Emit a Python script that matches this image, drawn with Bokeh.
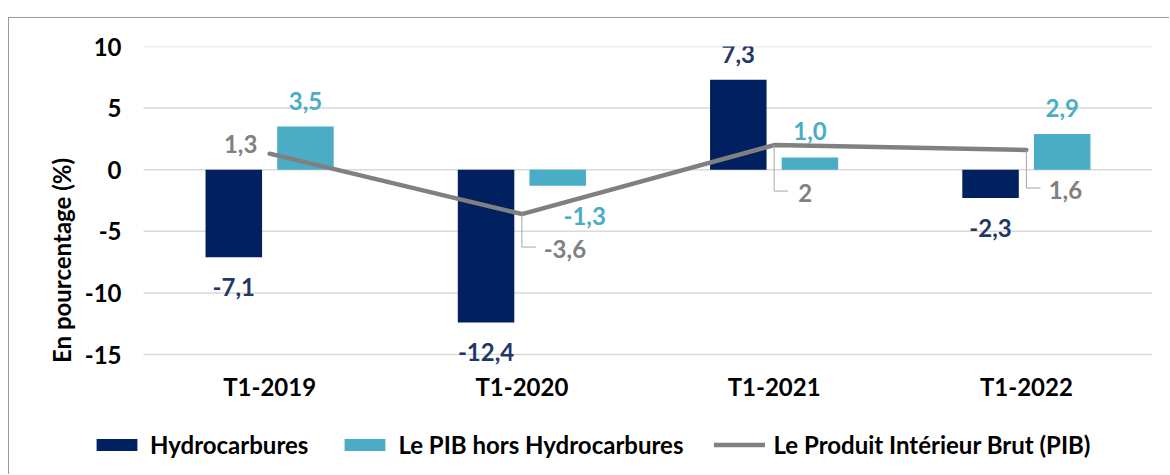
from bokeh.plotting import figure
from bokeh.models import FixedTicker, Legend, LegendItem, ColumnDataSource
from bokeh.transform import dodge
from bokeh.embed import file_html
from bokeh.resources import INLINE
from bokeh.core.properties import value

# ---------------- data ----------------
categories = ["T1-2019", "T1-2020", "T1-2021", "T1-2022"]
hydrocarbures = [-7.1, -12.4, 7.3, -2.3]
pib_hors_hydro = [3.5, -1.3, 1.0, 2.9]
pib = [1.3, -3.6, 2.0, 1.6]
y_ticks = [-15, -10, -5, 0, 5, 10]

# ---------------- style / layout ----------------
FONT = "Lato"
NAVY = "#002060"
NAVY_TXT = "#1f3868"
LIGHT = "#4bacc6"
GREY = "#808080"
GRID = "#d9d9d9"
FS = "24px"

PX_Y = 12.32                       # pixels per unit on y
PX_X = 1009 / len(categories)      # pixels per category
EXTRA_L = 53                       # frame extends left of the category area (legend room)
FW = 1009 + EXTRA_L
FH = 428
Y1 = 10
Y0 = Y1 - FH / PX_Y
X0 = -0.5 - EXTRA_L / PX_X
X1 = len(categories) - 0.5
OFF = 0.142
BW = 0.224

# label nudges (screen px)
hyd_dx = [0, 0, 0, 0]
hyd_dy = [30 if v < 0 else -26 for v in hydrocarbures]
hors_dx = [0, 27, 0, 0]
hors_dy = [30 if v < 0 else -26 for v in pib_hors_hydro]
pib_dx = [-29, 43, 31, 39]
pib_dy = [-10, 35, 48, 40]
leader = [False, True, True, True]


def fr(v, d=1):
    return (f"{v:.{d}f}" if d is not None else f"{v:g}").replace(".", ",")


xs = list(range(len(categories)))
src = ColumnDataSource(dict(
    x=xs,
    hyd=hydrocarbures, hors=pib_hors_hydro, pib=pib,
    hyd_lbl=[fr(v) for v in hydrocarbures],
    hors_lbl=[fr(v) for v in pib_hors_hydro],
    pib_lbl=[fr(v, None) for v in pib],
    hyd_dx=hyd_dx, hyd_dy=hyd_dy, hors_dx=hors_dx, hors_dy=hors_dy,
    pib_dx=pib_dx, pib_dy=pib_dy,
))

p = figure(frame_width=FW, frame_height=FH,
           x_range=(X0, X1), y_range=(Y0, Y1),
           output_backend="svg", toolbar_location=None,
           min_border_left=81, min_border_right=17,
           min_border_top=28, min_border_bottom=0)
p.outline_line_color = None
p.background_fill_color = "white"
p.border_fill_color = "white"

# horizontal gridlines over the category area only
p.xgrid.visible = False
p.ygrid.visible = False
p.segment(x0=-0.5, x1=X1, y0=y_ticks, y1=y_ticks, line_color=GRID, line_width=1.5)

# axes
p.yaxis.ticker = FixedTicker(ticks=y_ticks)
p.yaxis.major_label_overrides = {t: str(t) for t in y_ticks}
p.yaxis.axis_line_color = None
p.yaxis.major_tick_line_color = None
p.yaxis.minor_tick_line_color = None
p.yaxis.major_label_text_font = FONT
p.yaxis.major_label_text_font_size = FS
p.yaxis.major_label_text_font_style = "bold"
p.yaxis.major_label_text_color = "black"
p.yaxis.major_label_standoff = 16 - EXTRA_L
p.yaxis.axis_label = "En pourcentage (%)"
p.yaxis.axis_label_text_font = FONT
p.yaxis.axis_label_text_font_size = FS
p.yaxis.axis_label_text_font_style = "bold"
p.yaxis.axis_label_text_color = "black"
p.yaxis.axis_label_standoff = 6

p.xaxis.ticker = FixedTicker(ticks=xs)
p.xaxis.major_label_overrides = {i: c for i, c in enumerate(categories)}
p.xaxis.axis_line_color = None
p.xaxis.major_tick_line_color = None
p.xaxis.minor_tick_line_color = None
p.xaxis.major_label_text_font = FONT
p.xaxis.major_label_text_font_size = FS
p.xaxis.major_label_text_font_style = "bold"
p.xaxis.major_label_text_color = "black"
p.xaxis.major_label_standoff = -4 - round((-16.2 - Y0) * PX_Y)

# bars
r_hyd = p.vbar(x=dodge("x", -OFF), top="hyd", width=BW, source=src,
               fill_color=NAVY, line_color=None)
r_hors = p.vbar(x=dodge("x", OFF), top="hors", width=BW, source=src,
                fill_color=LIGHT, line_color=None)

# line
r_pib = p.line(x="x", y="pib", source=src, line_color=GREY, line_width=4.5,
               line_cap="round", line_join="round")

# leader lines for PIB labels
lx, ly = [], []
for i, v in enumerate(pib):
    if leader[i]:
        yl = v - (pib_dy[i] - 2) / PX_Y
        lx.append([i, i, i + 14 / PX_X])
        ly.append([v, yl, yl])
p.multi_line(xs=lx, ys=ly, line_color="#a6a6a6", line_width=1)

# labels
common = dict(text_font=value(FONT), text_font_size=FS, text_font_style="bold",
              text_align="center", text_baseline="middle", source=src)
p.text(x=dodge("x", -OFF), y="hyd", text="hyd_lbl", x_offset="hyd_dx",
       y_offset="hyd_dy", text_color=NAVY_TXT, **common)
p.text(x=dodge("x", OFF), y="hors", text="hors_lbl", x_offset="hors_dx",
       y_offset="hors_dy", text_color=LIGHT, **common)
p.text(x="x", y="pib", text="pib_lbl", x_offset="pib_dx",
       y_offset="pib_dy", text_color=GREY, **common)

# legend
legend = Legend(items=[
    LegendItem(label="Hydrocarbures", renderers=[r_hyd]),
    LegendItem(label="Le PIB hors Hydrocarbures", renderers=[r_hors]),
    LegendItem(label="Le Produit Intérieur Brut (PIB)", renderers=[r_pib]),
], orientation="horizontal", location=(1, 15))
legend.border_line_color = None
legend.background_fill_alpha = 0
legend.padding = 0
legend.margin = 0
legend.spacing = 31
legend.label_standoff = 8
legend.glyph_width = 51
legend.glyph_height = 15
legend.label_text_font = FONT
legend.label_text_font_size = FS
legend.label_text_font_style = "bold"
legend.label_text_color = "black"
p.add_layout(legend, "center")

p.styles = {"border-left": "1px solid #9a9a9a", "border-top": "1px solid #9a9a9a",
            "position": "relative", "top": "17px", "left": "8px"}

open("out.html", "w").write(file_html(p, INLINE))
